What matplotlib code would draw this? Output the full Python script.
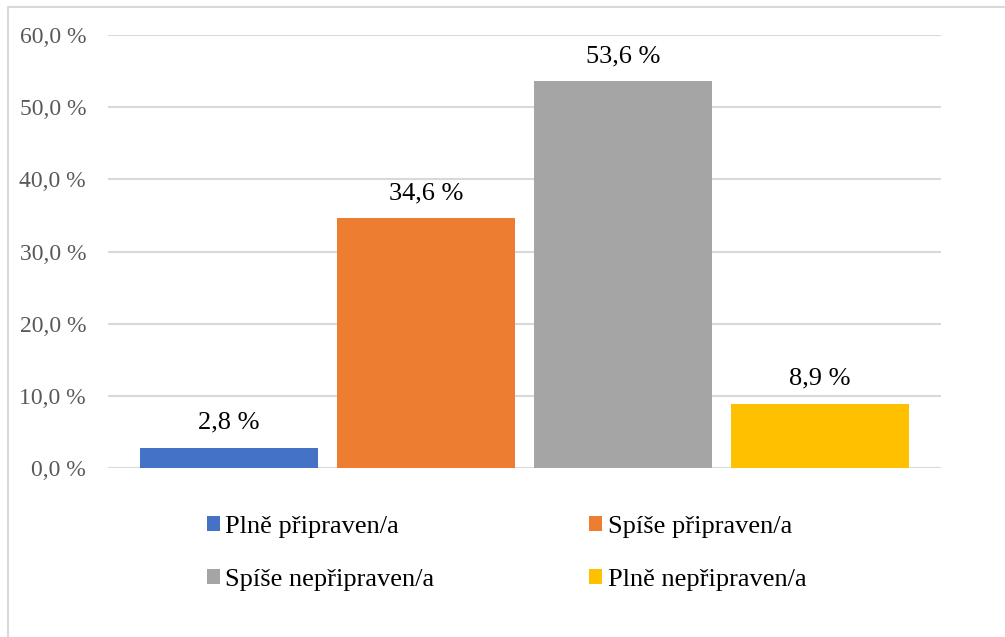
import matplotlib
matplotlib.use("Agg")
import matplotlib.pyplot as plt
from matplotlib.patches import Rectangle

categories = ["Plně připraven/a", "Spíše připraven/a", "Spíše nepřipraven/a", "Plně nepřipraven/a"]
values = [2.8, 34.6, 53.6, 8.9]
colors = ["#4472C4", "#ED7D31", "#A5A5A5", "#FFC000"]
yticks = [0, 10, 20, 30, 40, 50, 60]

plt.rcParams["font.family"] = ["Liberation Serif", "DejaVu Serif"]

fig = plt.figure(figsize=(10.05, 6.37), dpi=100)
ax = fig.add_axes([108 / 1005, 1 - 468 / 637, (941 - 108) / 1005, (468 - 35) / 637])

# light frame round the chart area (Excel style)
fig.patches.append(Rectangle((8 / 1005, -0.01), 1.0, 1 - 7 / 637 + 0.01,
                             transform=fig.transFigure, fill=False,
                             edgecolor="#d9d9d9", lw=1.5))

x = list(range(len(values)))
bars = ax.bar(x, values, width=0.906, color=colors, zorder=3)
for xi, v in zip(x, values):
    ax.annotate(f"{v:.1f} %".replace(".", ","), (xi, v), xytext=(0, 18),
                textcoords="offset points", ha="center", va="center",
                fontsize=19, color="black")

ax.set_xlim(-0.614, 3.614)
ax.set_ylim(0, 60)
ax.set_yticks(yticks)
ax.set_yticklabels([f"{t:.1f} %".replace(".", ",") for t in yticks], fontsize=17, color="#595959")
ax.set_xticks([])
ax.tick_params(axis="y", length=0, pad=15.8)
ax.grid(axis="y", color="#d9d9d9", lw=1.5, zorder=0)
for s in ax.spines.values():
    s.set_visible(False)

# legend fills row by row in the reference
order = [0, 2, 1, 3]
fig.legend([bars[i] for i in order], [categories[i] for i in order],
           ncol=2, loc="center left", bbox_to_anchor=(183 / 1005, 1 - 553.5 / 637),
           frameon=False, fontsize=19, handlelength=0.5, handleheight=0.5,
           handletextpad=0.2, columnspacing=5.87, labelspacing=1.2)

fig.savefig("out.png", dpi=100)
